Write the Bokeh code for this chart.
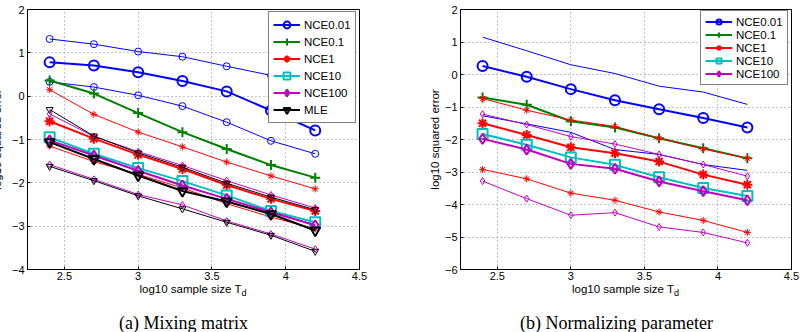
from bokeh.plotting import figure
from bokeh.models import Range1d, FixedTicker, Legend, LegendItem, Div
from bokeh.layouts import row, column
from bokeh.embed import file_html
from bokeh.resources import INLINE

# ---------------- data ----------------
x_vals = [2.4, 2.7, 3.0, 3.3, 3.6, 3.9, 4.2]
x_ticks = [2.5, 3.0, 3.5, 4.0, 4.5]
x_tick_labels = ["2.5", "3", "3.5", "4", "4.5"]
ya_ticks = [-4, -3, -2, -1, 0, 1, 2]
ya_tick_labels = ["\u22124", "\u22123", "\u22122", "\u22121", "0", "1", "2"]
yb_ticks = [-6, -5, -4, -3, -2, -1, 0, 1, 2]
yb_tick_labels = ["\u22126", "\u22125", "\u22124", "\u22123", "\u22122", "\u22121", "0", "1", "2"]

methods_a = ["NCE0.01", "NCE0.1", "NCE1", "NCE10", "NCE100", "MLE"]
methods_b = ["NCE0.01", "NCE0.1", "NCE1", "NCE10", "NCE100"]

# (a) Mixing matrix: median (thick) and quantile (thin) curves
a_nce001_mid = [0.78, 0.71, 0.55, 0.35, 0.11, -0.33, -0.79]
a_nce001_hi = [1.32, 1.20, 1.03, 0.91, 0.69, 0.48, 0.18]
a_nce001_lo = [0.33, 0.21, 0.02, -0.23, -0.60, -1.03, -1.33]
a_nce01_mid = [0.36, 0.06, -0.39, -0.83, -1.22, -1.59, -1.88]
a_nce1_hi = [0.15, -0.42, -0.83, -1.17, -1.52, -1.84, -2.14]
a_nce1_mid = [-0.58, -0.98, -1.35, -1.68, -2.05, -2.37, -2.65]
a_nce1_lo = [-1.15, -1.51, -1.80, -2.12, -2.48, -2.79, -3.06]
a_nce10_mid = [-0.95, -1.33, -1.66, -1.96, -2.29, -2.65, -2.91]
a_nce100_hi = [-0.41, -0.93, -1.28, -1.60, -1.95, -2.28, -2.58]
a_nce100_mid = [-1.02, -1.37, -1.72, -2.06, -2.37, -2.68, -2.98]
a_nce100_lo = [-1.58, -1.92, -2.27, -2.51, -2.88, -3.18, -3.53]
a_mle_hi = [-0.31, -0.92, -1.31, -1.64, -2.01, -2.33, -2.62]
a_mle_mid = [-1.06, -1.45, -1.83, -2.19, -2.43, -2.72, -3.10]
a_mle_lo = [-1.62, -1.95, -2.30, -2.60, -2.91, -3.21, -3.58]

# (b) Normalizing parameter
b_nce001_mid = [0.26, -0.07, -0.45, -0.79, -1.07, -1.34, -1.63]
b_nce001_hi = [1.15, 0.73, 0.30, 0.03, -0.36, -0.54, -0.92]
b_nce001_lo = [-1.27, -1.52, -1.78, -2.31, -2.46, -2.77, -2.95]
b_nce01_mid = [-0.71, -0.93, -1.44, -1.63, -1.96, -2.27, -2.58]
b_nce1_hi = [-0.74, -1.10, -1.40, -1.60, -1.96, -2.29, -2.58]
b_nce1_mid = [-1.50, -1.86, -2.24, -2.42, -2.68, -3.08, -3.39]
b_nce1_lo = [-2.92, -3.21, -3.65, -3.87, -4.23, -4.49, -4.86]
b_nce10_mid = [-1.83, -2.16, -2.55, -2.78, -3.16, -3.49, -3.74]
b_nce100_hi = [-1.22, -1.54, -1.91, -2.14, -2.46, -2.77, -3.13]
b_nce100_mid = [-1.98, -2.31, -2.75, -2.90, -3.29, -3.59, -3.87]
b_nce100_lo = [-3.28, -3.82, -4.33, -4.25, -4.69, -4.86, -5.18]

y_title = "log10 squared error"
x_title = "log10 sample size T"
x_title_sub = "d"
caption_a = "(a) Mixing matrix"
caption_b = "(b) Normalizing parameter"

# ---------------- styles ----------------
COLORS = {"NCE0.01": "#0000FF", "NCE0.1": "#008000", "NCE1": "#FF0000",
          "NCE10": "#00BFBF", "NCE100": "#BF00BF", "MLE": "#000000"}
MARKERS = {"NCE0.01": "circle", "NCE0.1": "cross", "NCE1": "asterisk",
           "NCE10": "square", "NCE100": "diamond", "MLE": "inverted_triangle"}
FONT = "Liberation Sans"
FIG_H = 284
SHIFT = 13  # left panel is pulled left so its y-title is clipped like the original


def make_fig(ymin, ymax, yticks, ylabels, width, bl, br, label_standoff):
    p = figure(width=width, height=FIG_H, output_backend="svg", toolbar_location=None,
               x_range=Range1d(2.25, 4.5), y_range=Range1d(ymin, ymax),
               min_border_left=bl, min_border_right=br, min_border_top=9,
               min_border_bottom=FIG_H - 269)
    p.background_fill_color = "white"
    p.border_fill_color = "white"
    p.outline_line_color = "black"
    p.outline_line_width = 1
    p.xaxis.ticker = FixedTicker(ticks=x_ticks)
    p.xaxis.major_label_overrides = {t: l for t, l in zip(x_ticks, x_tick_labels)}
    p.yaxis.ticker = FixedTicker(ticks=yticks)
    p.yaxis.major_label_overrides = {t: l for t, l in zip(yticks, ylabels)}
    for ax in (p.xaxis, p.yaxis):
        ax.major_tick_in = 3
        ax.major_tick_out = 0
        ax.minor_tick_line_color = None
        ax.axis_line_color = "black"
        ax.major_tick_line_color = "black"
        ax.major_label_text_font = FONT
        ax.major_label_text_font_size = "11px"
        ax.major_label_text_color = "black"
    p.xaxis.major_label_standoff = 2
    p.yaxis.major_label_standoff = 3
    p.yaxis.axis_label = y_title
    p.yaxis.axis_label_text_font = FONT
    p.yaxis.axis_label_text_font_size = "11.5px"
    p.yaxis.axis_label_text_font_style = "normal"
    p.yaxis.axis_label_text_color = "black"
    p.yaxis.axis_label_standoff = label_standoff
    p.xgrid.ticker = FixedTicker(ticks=x_ticks)
    p.ygrid.ticker = FixedTicker(ticks=yticks)
    for g in (p.xgrid, p.ygrid):
        g.grid_line_color = "#8a8a8a"
        g.grid_line_dash = "1 3"
        g.grid_line_width = 1
    return p


def draw(p, ys, method, thick, markers=True):
    c = COLORS[method]
    lw = 2 if thick else 1
    rs = [p.line(x_vals, ys, line_color=c, line_width=lw)]
    if markers:
        size = 10 if thick else 7
        rs.append(p.scatter(x_vals, ys, marker=MARKERS[method], size=size,
                            line_color=c, line_width=lw, fill_color=None))
    return rs


def add_legend(p, items, loc, row_h):
    leg = Legend(items=items, location=loc, border_line_color="black",
                 border_line_width=1, background_fill_color="white",
                 background_fill_alpha=1, padding=4, margin=0, spacing=0,
                 glyph_width=27, glyph_height=row_h, label_height=row_h,
                 label_standoff=4, label_text_font=FONT,
                 label_text_font_size="11.5px", label_text_color="black")
    p.add_layout(leg, "center")


def bottom_div(width, frame_left, frame_w, caption, cap_left):
    html = (
        f'<div style="position:relative;width:{width}px;height:{332 - FIG_H}px;">'
        f'<div style="position:absolute;left:{frame_left}px;top:0px;width:{frame_w}px;'
        f'text-align:center;font-family:\'{FONT}\';font-size:11.5px;line-height:11.5px;color:black;">'
        f'{x_title}<sub style="font-size:9px;line-height:9px;">{x_title_sub}</sub></div>'
        f'<div style="position:absolute;left:{cap_left}px;top:30px;white-space:nowrap;'
        f'font-family:\'Liberation Serif\';font-size:18px;line-height:18px;color:black;">'
        f'{caption}</div></div>'
    )
    return Div(text=html, width=width, height=332 - FIG_H,
               styles={"margin": "0", "padding": "0"})


# ---------------- panel (a) ----------------
WA = 401 + SHIFT
pa = make_fig(-4, 2, ya_ticks, ya_tick_labels, WA, 27 + SHIFT, 42, 6)
a_series = {
    "NCE0.01": [(a_nce001_hi, False), (a_nce001_lo, False), (a_nce001_mid, True)],
    "NCE0.1": [(a_nce01_mid, True)],
    "NCE1": [(a_nce1_hi, False), (a_nce1_lo, False), (a_nce1_mid, True)],
    "NCE10": [(a_nce10_mid, True)],
    "NCE100": [(a_nce100_hi, False), (a_nce100_lo, False), (a_nce100_mid, True)],
    "MLE": [(a_mle_hi, False), (a_mle_lo, False), (a_mle_mid, True)],
}
items_a = []
for m in methods_a:
    main = None
    for ys, thick in a_series[m]:
        rs = draw(pa, ys, m, thick)
        if thick:
            main = rs
    items_a.append(LegendItem(label=m, renderers=main))
add_legend(pa, items_a, (241, 146), 17)

# ---------------- panel (b) ----------------
pb = make_fig(-6, 2, yb_ticks, yb_tick_labels, 401, 59, 11, 1)
b_series = {
    "NCE0.01": [(b_nce001_hi, False, False), (b_nce001_lo, False, False), (b_nce001_mid, True, True)],
    "NCE0.1": [(b_nce01_mid, True, True)],
    "NCE1": [(b_nce1_hi, False, True), (b_nce1_lo, False, True), (b_nce1_mid, True, True)],
    "NCE10": [(b_nce10_mid, True, True)],
    "NCE100": [(b_nce100_hi, False, True), (b_nce100_lo, False, True), (b_nce100_mid, True, True)],
}
items_b = []
for m in methods_b:
    main = None
    for ys, thick, mk in b_series[m]:
        rs = draw(pb, ys, m, thick, mk)
        if thick:
            main = rs
    items_b.append(LegendItem(label=m, renderers=main))
add_legend(pb, items_b, (240, 184), 13)

div_a = bottom_div(WA, 27 + SHIFT, 332, caption_a, 119 + SHIFT)
div_b = bottom_div(401, 59, 331, caption_b, 119)

col_a = column(pa, div_a, styles={"margin-left": f"-{SHIFT}px"})
col_b = column(pb, div_b)
layout = row(col_a, col_b)
open("out.html", "w").write(file_html(layout, INLINE))
